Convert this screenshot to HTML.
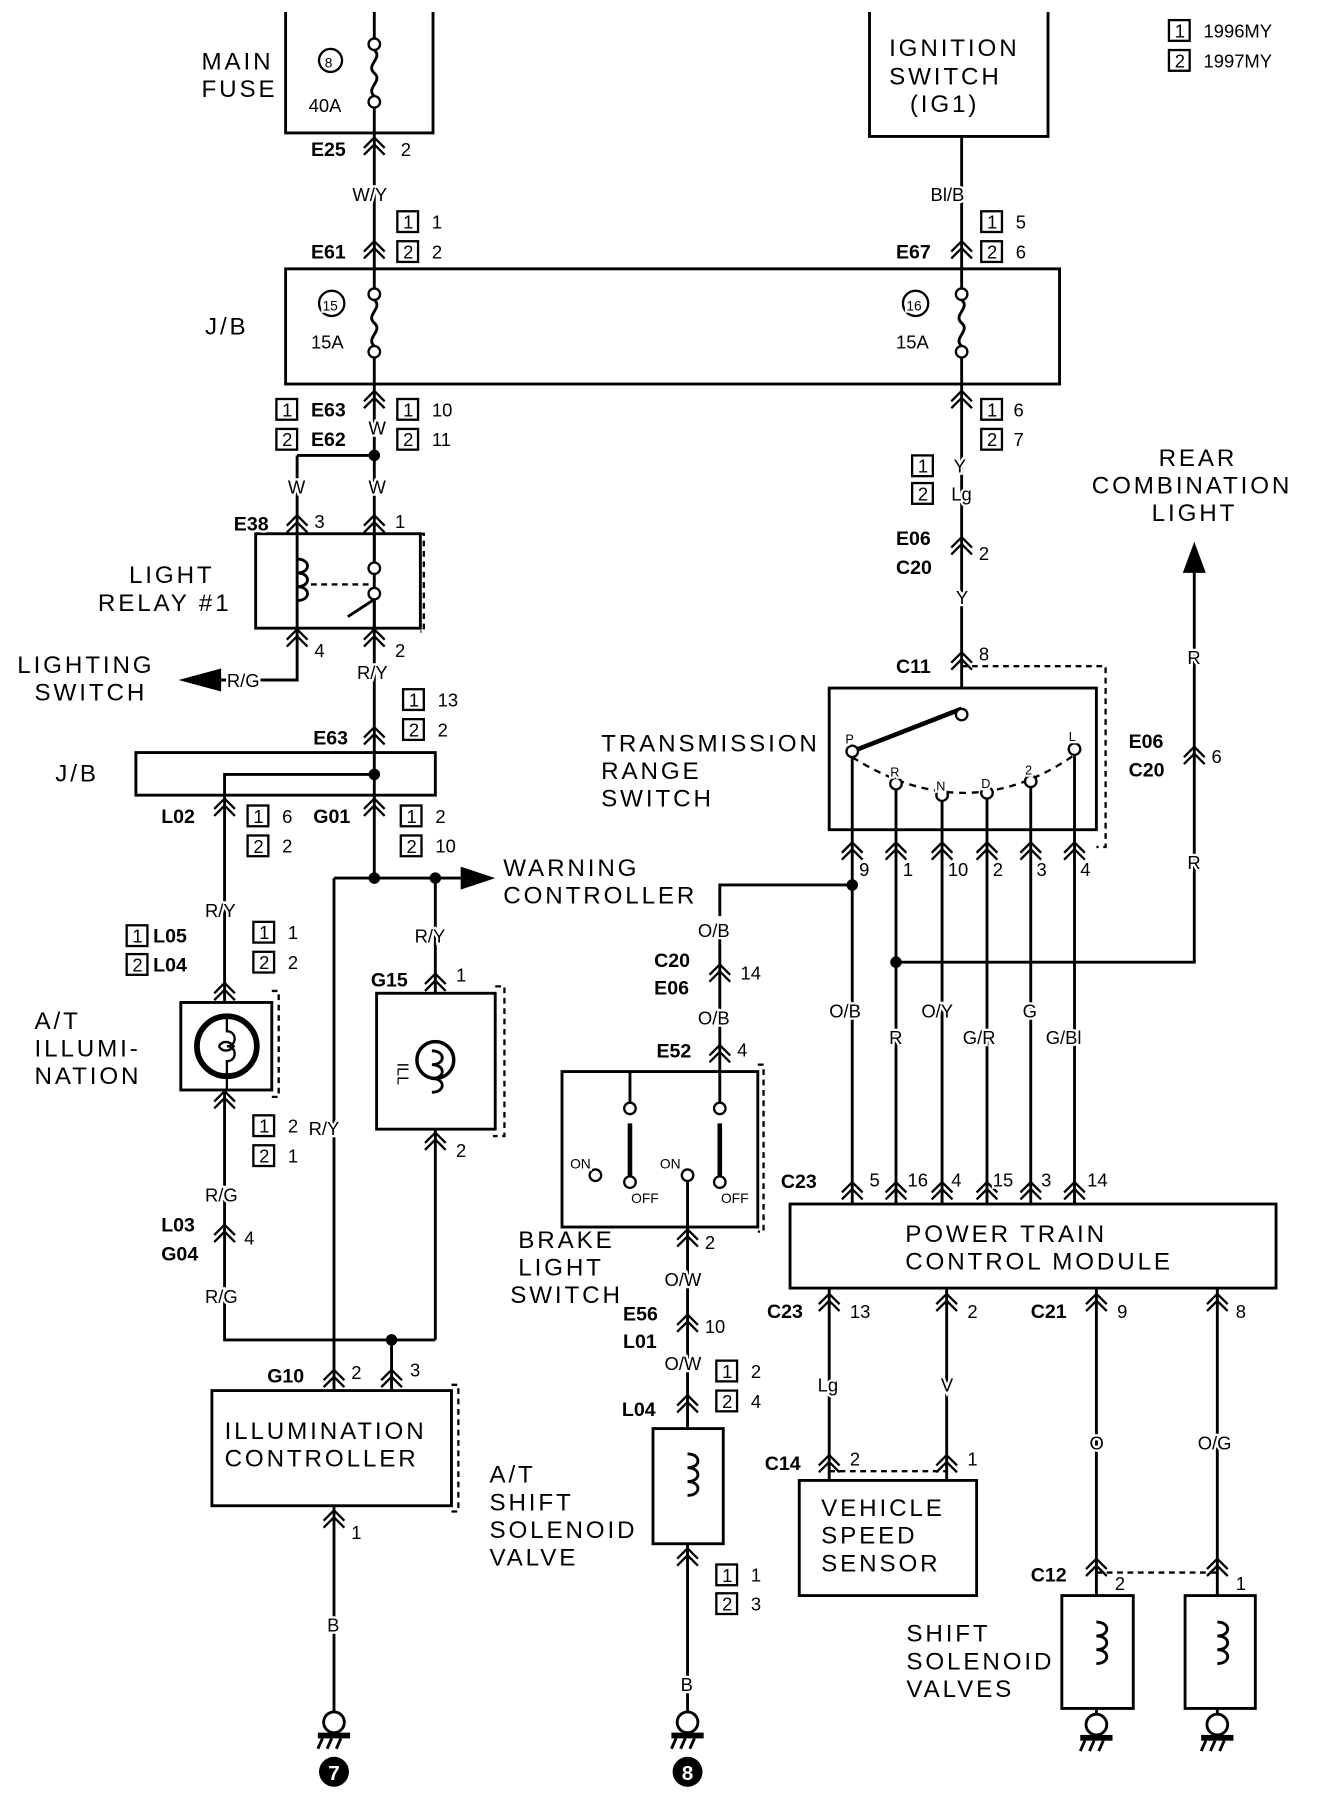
<!DOCTYPE html>
<html><head><meta charset="utf-8"><style>
html,body{margin:0;padding:0;background:#fff}
svg{display:block}
text{font-family:"Liberation Sans",sans-serif;fill:#000}
.L{font-size:21px;letter-spacing:2.5px}
.S{font-size:16px}
.S text,.B text{paint-order:stroke;stroke:#fff;stroke-width:4px}
.B{font-size:17px;font-weight:bold}
</style></head><body>
<svg width="1344" height="1808" viewBox="0 0 1167 1569" xmlns="http://www.w3.org/2000/svg">
<defs>
<g id="c"><path d="M-9 10 L0 1 L9 10 M-9 16 L0 7 L9 16" fill="none" stroke="#000" stroke-width="2"/></g>
<g id="b1"><rect x="0" y="-15" width="18" height="18" fill="none" stroke="#000" stroke-width="2"/><text x="5" y="0" style="font-size:16px">1</text></g>
<g id="b2"><rect x="0" y="-15" width="18" height="18" fill="none" stroke="#000" stroke-width="2"/><text x="5" y="0" style="font-size:16px">2</text></g>
<g id="gnd"><circle cx="0" cy="0" r="9" fill="#fff" stroke="#000" stroke-width="2.5"/><rect x="-14" y="9" width="28" height="5" fill="#000"/><path d="M-10 14 l-4 9 M-2 14 l-4 9 M6 14 l-4 9" stroke="#000" stroke-width="2.5"/></g>
<g id="fuse"><circle cx="0" cy="0" r="5" fill="#fff" stroke="#000" stroke-width="2"/><path d="M0 5 C8 12 -8 18 0 25 C8 32 -8 38 0 45" fill="none" stroke="#000" stroke-width="2.5"/><circle cx="0" cy="50" r="5" fill="#fff" stroke="#000" stroke-width="2"/></g>
<g id="coil"><path d="M0 0 C12 0 12 12 0 12 C12 12 12 24 0 24 C12 24 12 36 0 36" fill="none" stroke="#000" stroke-width="2.5"/></g>
</defs>
<g stroke="#000" stroke-width="2.5" fill="none">
<path d="M248 10 V115 H376 V10"/>
<path d="M325 10 V33 M325 93 V233"/>
<path d="M755 10 V118 H910 V10"/>
<path d="M835 118 V233"/>
<rect x="248" y="233" width="672" height="100"/>
<path d="M325 233 V250 M325 310 V395 M835 233 V250 M835 310 V597"/>
<path d="M258 395 H325 M258 395 V545 M325 395 V760"/>
<rect x="222" y="463" width="143" height="82"/>
<path d="M365 463 h3 v85 h-3" stroke-dasharray="5,4" stroke-width="2"/>
<path d="M325 463 V488 M325 545 V520 M325 520 L302 535" />
<path d="M270 507 H320" stroke-dasharray="5,4" stroke-width="2"/>
<path d="M258 545 V590 H192"/>
<rect x="118" y="653" width="260" height="37"/>
<path d="M325 672 H195 V1163 H378 M378 762 V862 M378 980 V1163 M290 762 H400 M290 762 V1207 M340 1163 V1207"/>
<rect x="157" y="870" width="79" height="76" fill="#fff"/>
<path d="M236 860 h6 v92 h-10" stroke-dasharray="5,4" stroke-width="2"/>
<circle cx="197" cy="908" r="26" stroke-width="5"/>
<path d="M197 882 V895 C206 895 206 908 197 908 C206 908 206 921 197 921 V946 M190 908 C193 903 199 903 203 908 C199 913 193 913 190 908" stroke-width="2"/>
<rect x="327" y="862" width="103" height="118"/>
<path d="M430 856 h8 v130 h-10" stroke-dasharray="5,4" stroke-width="2"/>
<circle cx="378" cy="920" r="16" stroke-width="3"/>
<rect x="184" y="1207" width="208" height="100"/>
<path d="M392 1202 h6 v110 h-6" stroke-dasharray="5,4" stroke-width="2"/>
<path d="M290 1307 V1487"/>
<path d="M740 768 H625 V795 M625 815 V965 M625 1025 V1030"/>
<rect x="488" y="930" width="170" height="135"/>
<path d="M658 924 h5 v145 h-5" stroke-dasharray="5,4" stroke-width="2"/>
<path d="M547 930 V958 M597 1025 V1240 M597 1340 V1487"/>
<path d="M547 975 V1025 M625 975 V1025" stroke-width="4"/>
<rect x="567" y="1240" width="61" height="100"/>
<rect x="720" y="597" width="232" height="123"/>
<path d="M835 578 H960 V735 H952" stroke-dasharray="5,4" stroke-width="2"/>
<path d="M835 615 L740 652" stroke-width="4"/>
<path d="M740 657 Q840 720 933 655" stroke-dasharray="6,5" stroke-width="2"/>
<path d="M740 657 V1045 M778 685 V1045 M818 695 V1045 M857 693 V1045 M895 683 V1045 M933 655 V1045"/>
<path d="M778 835 H1037 V497"/>
<rect x="686" y="1045" width="422" height="73"/>
<path d="M720 1118 V1285 M822 1118 V1285 M952 1118 V1385 M1057 1118 V1385"/>
<path d="M720 1277 H822 M952 1365 H1057" stroke-dasharray="5,4" stroke-width="2"/>
<rect x="694" y="1285" width="154" height="100"/>
<rect x="922" y="1385" width="62" height="98"/>
<rect x="1029" y="1385" width="61" height="98"/>
<path d="M952 1483 V1489 M1057 1483 V1489"/>
</g>
<g fill="#000">
<circle cx="325" cy="395" r="5"/><circle cx="325" cy="672" r="5"/><circle cx="325" cy="762" r="5"/><circle cx="378" cy="762" r="5"/><circle cx="340" cy="1163" r="5"/><circle cx="740" cy="768" r="5"/><circle cx="778" cy="835" r="5"/>
<path d="M192 580 L155 590 L192 600 Z"/><path d="M400 752 L430 762 L400 772 Z"/><path d="M1027 497 L1037 470 L1047 497 Z"/>
<circle cx="290" cy="1538" r="13"/><circle cx="597" cy="1538" r="13"/>
</g>
<text x="290" y="1545" text-anchor="middle" style="font-size:18px;font-weight:bold;fill:#fff">7</text>
<text x="597" y="1545" text-anchor="middle" style="font-size:18px;font-weight:bold;fill:#fff">8</text>
<g>
<use href="#fuse" x="325" y="38"/><use href="#fuse" x="325" y="255"/><use href="#fuse" x="835" y="255"/>
<use href="#coil" x="258" y="485"/><use href="#coil" x="597" y="1262"/><use href="#coil" x="952" y="1408"/><use href="#coil" x="1057" y="1408"/>
<use href="#coil" x="375" y="912"/>
<use href="#gnd" x="290" y="1495"/><use href="#gnd" x="597" y="1495"/><use href="#gnd" x="952" y="1497"/><use href="#gnd" x="1057" y="1497"/>
</g>
<g fill="#fff" stroke="#000" stroke-width="2">
<circle cx="325" cy="493" r="5"/><circle cx="325" cy="515" r="5"/>
<circle cx="835" cy="620" r="5"/><circle cx="740" cy="652" r="5"/><circle cx="778" cy="680" r="5"/><circle cx="818" cy="690" r="5"/><circle cx="857" cy="688" r="5"/><circle cx="895" cy="678" r="5"/><circle cx="933" cy="650" r="5"/>
<circle cx="547" cy="962" r="5"/><circle cx="625" cy="962" r="5"/><circle cx="517" cy="1020" r="5"/><circle cx="547" cy="1026" r="5"/><circle cx="597" cy="1020" r="5"/><circle cx="625" cy="1026" r="5"/>
<circle cx="287" cy="52" r="10"/><circle cx="288" cy="263" r="11"/><circle cx="795" cy="263" r="11"/>
</g>
<g>
<use href="#c" x="325" y="118"/><use href="#c" x="325" y="208"/><use href="#c" x="835" y="208"/>
<use href="#c" x="325" y="338"/><use href="#c" x="835" y="338"/>
<use href="#c" x="258" y="446"/><use href="#c" x="325" y="446"/><use href="#c" x="258" y="545"/><use href="#c" x="325" y="545"/>
<use href="#c" x="835" y="465"/><use href="#c" x="835" y="565"/><use href="#c" x="325" y="630"/><use href="#c" x="195" y="692"/><use href="#c" x="325" y="692"/>
<use href="#c" x="195" y="852"/><use href="#c" x="195" y="946"/><use href="#c" x="195" y="1062"/><use href="#c" x="378" y="844"/><use href="#c" x="378" y="982"/>
<use href="#c" x="290" y="1188"/><use href="#c" x="340" y="1188"/><use href="#c" x="290" y="1310"/>
<use href="#c" x="625" y="836"/><use href="#c" x="625" y="906"/><use href="#c" x="597" y="1066"/><use href="#c" x="597" y="1140"/><use href="#c" x="597" y="1210"/><use href="#c" x="597" y="1343"/>
<use href="#c" x="1037" y="647"/>
<use href="#c" x="740" y="730"/><use href="#c" x="778" y="730"/><use href="#c" x="818" y="730"/><use href="#c" x="857" y="730"/><use href="#c" x="895" y="730"/><use href="#c" x="933" y="730"/>
<use href="#c" x="740" y="1025"/><use href="#c" x="778" y="1025"/><use href="#c" x="818" y="1025"/><use href="#c" x="857" y="1025"/><use href="#c" x="895" y="1025"/><use href="#c" x="933" y="1025"/>
<use href="#c" x="720" y="1122"/><use href="#c" x="822" y="1122"/><use href="#c" x="952" y="1122"/><use href="#c" x="1057" y="1122"/>
<use href="#c" x="720" y="1262"/><use href="#c" x="822" y="1262"/><use href="#c" x="952" y="1352"/><use href="#c" x="1057" y="1352"/>
</g>
<g class="L">
<text x="175" y="60">MAIN</text><text x="175" y="84">FUSE</text>
<text x="772" y="48">IGNITION</text><text x="772" y="73">SWITCH</text><text x="790" y="97">(IG1)</text>
<text x="178" y="290">J/B</text><text x="48" y="678">J/B</text>
<text x="112" y="506">LIGHT</text><text x="85" y="530">RELAY #1</text>
<text x="15" y="584">LIGHTING</text><text x="30" y="608">SWITCH</text>
<text x="437" y="760">WARNING</text><text x="437" y="784">CONTROLLER</text>
<text x="30" y="893">A/T</text><text x="30" y="917">ILLUMI-</text><text x="30" y="941">NATION</text>
<text x="195" y="1249">ILLUMINATION</text><text x="195" y="1273">CONTROLLER</text>
<text x="450" y="1083">BRAKE</text><text x="450" y="1107">LIGHT</text><text x="443" y="1131">SWITCH</text>
<text x="425" y="1287">A/T</text><text x="425" y="1311">SHIFT</text><text x="425" y="1335">SOLENOID</text><text x="425" y="1359">VALVE</text>
<text x="522" y="652">TRANSMISSION</text><text x="522" y="676">RANGE</text><text x="522" y="700">SWITCH</text>
<text x="1006" y="404">REAR</text><text x="948" y="428">COMBINATION</text><text x="1000" y="452">LIGHT</text>
<text x="786" y="1078">POWER TRAIN</text><text x="786" y="1102">CONTROL MODULE</text>
<text x="713" y="1316">VEHICLE</text><text x="713" y="1340">SPEED</text><text x="713" y="1364">SENSOR</text>
<text x="787" y="1425">SHIFT</text><text x="787" y="1449">SOLENOID</text><text x="787" y="1473">VALVES</text>
</g>
<g class="S">
<text x="282" y="58" style="font-size:12px">8</text><text x="280" y="269" style="font-size:12px">15</text><text x="787" y="269" style="font-size:12px">16</text>
<text x="268" y="97">40A</text><text x="270" y="302">15A</text><text x="778" y="302">15A</text>
<text x="348" y="135">2</text><text x="306" y="174">W/Y</text><text x="808" y="174">Bl/B</text>
<text x="375" y="198">1</text><text x="375" y="224">2</text><text x="882" y="198">5</text><text x="882" y="224">6</text>
<text x="375" y="361">10</text><text x="375" y="387">11</text><text x="320" y="377">W</text>
<text x="880" y="361">6</text><text x="880" y="387">7</text>
<text x="828" y="410">Y</text><text x="826" y="434">Lg</text><text x="850" y="486">2</text><text x="830" y="524">Y</text>
<text x="250" y="428">W</text><text x="320" y="428">W</text><text x="273" y="458">3</text><text x="343" y="458">1</text>
<text x="273" y="570">4</text><text x="343" y="570">2</text><text x="197" y="596">R/G</text><text x="310" y="589">R/Y</text>
<text x="380" y="613">13</text><text x="380" y="639">2</text>
<text x="245" y="714">6</text><text x="245" y="740">2</text><text x="378" y="714">2</text><text x="378" y="740">10</text>
<text x="178" y="796">R/Y</text><text x="360" y="818">R/Y</text>
<text x="250" y="815">1</text><text x="250" y="841">2</text><text x="396" y="852">1</text><text x="396" y="1004">2</text>
<text x="250" y="983">2</text><text x="268" y="985">R/Y</text><text x="250" y="1009">1</text>
<text x="178" y="1043">R/G</text><text x="212" y="1080">4</text><text x="178" y="1131">R/G</text>
<text x="305" y="1197">2</text><text x="356" y="1195">3</text><text x="305" y="1336">1</text><text x="284" y="1416">B</text>
<text x="606" y="813">O/B</text><text x="643" y="850">14</text><text x="606" y="889">O/B</text><text x="640" y="917">4</text>
<text x="495" y="1014" style="font-size:12px">ON</text><text x="573" y="1014" style="font-size:12px">ON</text><text x="548" y="1044" style="font-size:12px">OFF</text><text x="626" y="1044" style="font-size:12px">OFF</text>
<text x="612" y="1084">2</text><text x="577" y="1116">O/W</text><text x="612" y="1157">10</text><text x="577" y="1189">O/W</text>
<text x="652" y="1196">2</text><text x="652" y="1222">4</text><text x="652" y="1373">1</text><text x="652" y="1398">3</text><text x="591" y="1468">B</text>
<text x="734" y="645" style="font-size:11px">P</text><text x="773" y="674" style="font-size:11px">R</text><text x="813" y="686" style="font-size:11px">N</text><text x="852" y="684" style="font-size:11px">D</text><text x="890" y="672" style="font-size:11px">2</text><text x="928" y="643" style="font-size:11px">L</text>
<text x="850" y="573">8</text>
<text x="746" y="760">9</text><text x="784" y="760">1</text><text x="823" y="760">10</text><text x="862" y="760">2</text><text x="900" y="760">3</text><text x="938" y="760">4</text>
<text x="1031" y="576">R</text><text x="1052" y="662">6</text><text x="1031" y="754">R</text>
<text x="720" y="883">O/B</text><text x="772" y="906">R</text><text x="800" y="883">O/Y</text><text x="836" y="906">G/R</text><text x="888" y="883">G</text><text x="908" y="906">G/Bl</text>
<text x="755" y="1030">5</text><text x="788" y="1030">16</text><text x="826" y="1030">4</text><text x="862" y="1030">15</text><text x="904" y="1030">3</text><text x="944" y="1030">14</text>
<text x="738" y="1144">13</text><text x="840" y="1144">2</text><text x="970" y="1144">9</text><text x="1073" y="1144">8</text>
<text x="710" y="1208">Lg</text><text x="817" y="1208">V</text><text x="946" y="1258">O</text><text x="1040" y="1258">O/G</text>
<text x="738" y="1272">2</text><text x="840" y="1272">1</text><text x="968" y="1380">2</text><text x="1073" y="1380">1</text>
<text x="1045" y="32">1996MY</text><text x="1045" y="58">1997MY</text>
</g>
<text x="345" y="932" style="font-size:14px" transform="rotate(90 345 932)" text-anchor="middle">ILL</text>
<g class="B">
<text x="270" y="135">E25</text><text x="270" y="224">E61</text><text x="778" y="224">E67</text>
<text x="270" y="361">E63</text><text x="270" y="387">E62</text>
<text x="778" y="473">E06</text><text x="778" y="498">C20</text><text x="203" y="460">E38</text>
<text x="272" y="646">E63</text><text x="140" y="714">L02</text><text x="272" y="714">G01</text>
<text x="133" y="818">L05</text><text x="133" y="843">L04</text><text x="322" y="856">G15</text>
<text x="140" y="1069">L03</text><text x="140" y="1094">G04</text><text x="232" y="1200">G10</text>
<text x="568" y="839">C20</text><text x="568" y="863">E06</text><text x="570" y="918">E52</text>
<text x="541" y="1146">E56</text><text x="541" y="1170">L01</text><text x="540" y="1229">L04</text>
<text x="778" y="584">C11</text><text x="980" y="649">E06</text><text x="980" y="674">C20</text>
<text x="678" y="1031">C23</text><text x="666" y="1144">C23</text><text x="895" y="1144">C21</text>
<text x="664" y="1276">C14</text><text x="895" y="1373">C12</text>
</g>
<g>
<use href="#b1" x="345" y="198"/><use href="#b2" x="345" y="224"/><use href="#b1" x="852" y="198"/><use href="#b2" x="852" y="224"/>
<use href="#b1" x="240" y="361"/><use href="#b2" x="240" y="387"/><use href="#b1" x="345" y="361"/><use href="#b2" x="345" y="387"/>
<use href="#b1" x="852" y="361"/><use href="#b2" x="852" y="387"/><use href="#b1" x="792" y="410"/><use href="#b2" x="792" y="434"/>
<use href="#b1" x="350" y="613"/><use href="#b2" x="350" y="639"/><use href="#b1" x="215" y="714"/><use href="#b2" x="215" y="740"/>
<use href="#b1" x="348" y="714"/><use href="#b2" x="348" y="740"/><use href="#b1" x="110" y="818"/><use href="#b2" x="110" y="843"/>
<use href="#b1" x="220" y="815"/><use href="#b2" x="220" y="841"/><use href="#b1" x="220" y="983"/><use href="#b2" x="220" y="1009"/>
<use href="#b1" x="622" y="1196"/><use href="#b2" x="622" y="1222"/><use href="#b1" x="622" y="1373"/><use href="#b2" x="622" y="1398"/>
<use href="#b1" x="1015" y="32"/><use href="#b2" x="1015" y="58"/>
</g>
</svg>
</body></html>
